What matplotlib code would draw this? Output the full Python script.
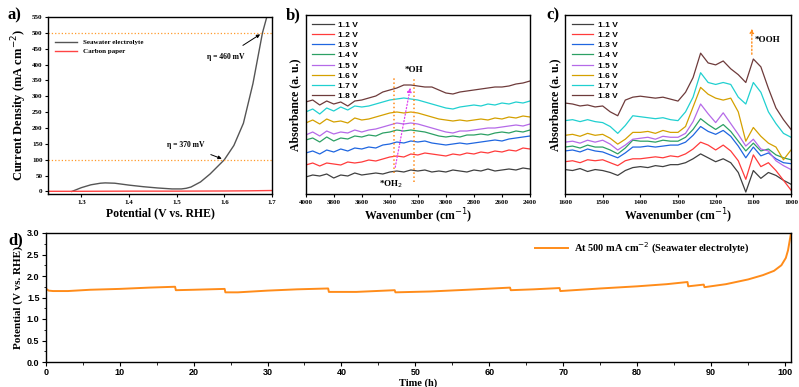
import numpy as np
import matplotlib
matplotlib.use('Agg')
import matplotlib.pyplot as plt

SERIF = 'Liberation Serif'
SANS = 'Liberation Sans'

# ---- panel a: LSV ----
v_sea = [1.28, 1.29, 1.30, 1.32, 1.34, 1.35, 1.37, 1.40, 1.43, 1.46, 1.49, 1.51, 1.52, 1.53,
         1.55, 1.57, 1.59, 1.60, 1.62, 1.64, 1.66, 1.68, 1.69]
j_sea = [0, 6, 12, 21, 26, 27, 26, 20, 15, 11, 8, 8, 10, 14,
         30, 55, 85, 100, 145, 215, 340, 500, 555]
v_cp = [1.23, 1.30, 1.40, 1.50, 1.60, 1.65, 1.70]
j_cp = [0.5, 0.5, 1, 1, 1.5, 2, 3]

# ---- panel b: FTIR 4000-2400 ----
wn_b = np.arange(4000, 2399, -50)
spec_b = {
    '1.1 V': [17, 19, 18, 20, 16, 19, 18, 21, 19, 20, 21, 20, 22, 23, 22, 24, 23, 24, 22, 23, 22, 24, 23, 22, 24, 23, 25, 23, 24, 25, 24, 26, 25],
    '1.2 V': [29, 31, 28, 31, 30, 29, 32, 31, 32, 34, 33, 35, 37, 38, 37, 40, 39, 41, 40, 39, 38, 40, 39, 41, 40, 42, 41, 43, 42, 44, 43, 46, 45],
    '1.3 V': [41, 43, 40, 44, 42, 45, 43, 46, 45, 47, 46, 49, 50, 52, 51, 53, 52, 53, 51, 50, 49, 50, 51, 50, 51, 52, 53, 54, 53, 55, 56, 57, 58],
    '1.4 V': [54, 56, 52, 57, 53, 56, 55, 58, 57, 59, 58, 61, 62, 64, 63, 64, 63, 62, 60, 58, 57, 58, 57, 59, 59, 60, 59, 61, 62, 61, 63, 62, 64],
    '1.5 V': [59, 62, 58, 63, 60, 62, 61, 64, 62, 64, 65, 67, 69, 71, 70, 71, 70, 68, 66, 64, 62, 61, 63, 63, 64, 65, 66, 66, 67, 68, 69, 68, 70],
    '1.6 V': [71, 74, 70, 75, 72, 73, 71, 76, 74, 75, 77, 79, 81, 82, 81, 82, 81, 79, 77, 75, 74, 73, 74, 73, 74, 75, 74, 76, 75, 77, 76, 78, 77],
    '1.7 V': [82, 85, 80, 86, 83, 87, 84, 88, 87, 88, 90, 92, 94, 95, 96, 95, 94, 92, 90, 88, 86, 85, 87, 88, 89, 88, 90, 89, 91, 90, 92, 91, 93],
    '1.8 V': [92, 94, 89, 93, 90, 92, 88, 93, 94, 96, 98, 102, 104, 106, 109, 109, 108, 107, 107, 104, 101, 100, 102, 103, 104, 105, 106, 107, 107, 108, 110, 111, 113],
}

# ---- panel c: FTIR 1600-1000 ----
wn_c = np.arange(1600, 999, -20)
spec_c = {
    '1.1 V': [21, 20, 22, 19, 21, 20, 18, 15, 20, 23, 24, 23, 25, 24, 26, 26, 28, 32, 37, 33, 29, 32, 28, 18, -2, 20, 12, 18, 15, 10, 6],
    '1.2 V': [29, 30, 28, 31, 30, 31, 28, 25, 30, 32, 32, 33, 34, 33, 35, 34, 37, 42, 49, 46, 41, 46, 40, 30, 11, 36, 24, 28, 20, 10, 0],
    '1.3 V': [40, 41, 39, 42, 40, 39, 36, 33, 38, 44, 44, 45, 44, 45, 46, 46, 49, 56, 65, 60, 57, 61, 55, 45, 33, 44, 35, 38, 32, 28, 27],
    '1.4 V': [44, 45, 43, 46, 44, 44, 41, 37, 43, 51, 50, 50, 49, 51, 50, 50, 54, 62, 73, 67, 62, 67, 60, 50, 40, 48, 40, 42, 36, 33, 31],
    '1.5 V': [49, 50, 48, 51, 49, 51, 47, 41, 46, 52, 53, 54, 52, 55, 54, 54, 58, 70, 88, 78, 69, 79, 68, 57, 45, 52, 42, 40, 30, 25, 21],
    '1.6 V': [56, 57, 55, 58, 56, 57, 53, 47, 52, 59, 59, 60, 58, 61, 59, 59, 65, 85, 105, 98, 94, 92, 94, 80, 50, 64, 55, 48, 44, 31, 41],
    '1.7 V': [71, 72, 70, 72, 70, 69, 65, 58, 66, 76, 75, 74, 73, 74, 72, 71, 80, 95, 120, 110, 108, 110, 108, 95, 88, 110, 100, 80, 68, 58, 54],
    '1.8 V': [89, 88, 86, 87, 85, 86, 80, 76, 92, 95, 96, 95, 94, 95, 93, 91, 100, 115, 140, 130, 128, 132, 124, 118, 110, 134, 126, 104, 84, 72, 62],
}
colors = ['#404040', '#ff3b3b', '#1f66e0', '#2ca064', '#b56ae8', '#d4a000', '#20d0d0', '#6e3b3b']

# ---- panel d: stability ----
t_h = [0, 0.4, 1, 3, 6, 10, 14, 17.5, 17.6, 20, 24.2, 24.3, 26, 30, 34, 38.2, 38.3, 42, 47.2, 47.3,
       52, 57, 62.8, 62.9, 66, 69.5, 69.6, 75, 80, 84, 86.8, 86.9, 89, 89.1, 92, 95, 97, 98.5,
       99.5, 100.1, 100.4, 100.6, 100.8]
pot = [1.71, 1.66, 1.65, 1.65, 1.68, 1.70, 1.73, 1.75, 1.67, 1.68, 1.70, 1.62, 1.62, 1.66, 1.69, 1.71, 1.63, 1.63, 1.67, 1.62,
       1.64, 1.68, 1.73, 1.67, 1.69, 1.72, 1.65, 1.71, 1.76, 1.81, 1.86, 1.76, 1.80, 1.74, 1.81, 1.92, 2.02, 2.12,
       2.25, 2.42, 2.6, 2.8, 3.0]

W, H = 799, 387
fig = plt.figure(figsize=(W / 100, H / 100), dpi=100)


def box(l, t, r, b):
    return [l / W, 1 - b / H, (r - l) / W, (b - t) / H]


def style(ax, lw=1.0):
    for s in ax.spines.values():
        s.set_linewidth(lw)


def tick_font(labels, family, size):
    fp = matplotlib.font_manager.FontProperties(family=family, weight='bold', size=size)
    for lab in labels:
        lab.set_fontproperties(fp)


bold_serif = dict(family=SERIF, weight='bold')
bold_sans = dict(family=SANS, weight='bold')

# panel a
ax = fig.add_axes(box(48, 17, 272, 194))
style(ax)
ax.plot(v_sea, j_sea, color='#555555', lw=1.0, label='Seawater electrolyte')
ax.plot(v_cp, j_cp, color='#ff4444', lw=1.0, label='Carbon paper')
ax.axhline(100, color='#ff9a2a', ls=':', lw=0.9)
ax.axhline(500, color='#ff9a2a', ls=':', lw=0.9)
ax.set_xlim(1.23, 1.7)
ax.set_ylim(-8, 550)
ax.set_xticks([1.3, 1.4, 1.5, 1.6, 1.7])
ax.set_yticks(np.arange(0, 551, 50))
ax.tick_params(length=2.5, width=0.8, pad=1.5)
tick_font(ax.get_xticklabels() + ax.get_yticklabels(), SERIF, 5)
ax.set_xlabel('Potential (V vs. RHE)', fontsize=8.5, labelpad=2, **bold_serif)
ax.set_ylabel('Current Density (mA cm$^{-2}$)', fontsize=9, labelpad=2, **bold_serif)
ax.legend(loc='upper left', bbox_to_anchor=(0.02, 0.89), frameon=False, handlelength=3.2,
          borderaxespad=0, labelspacing=0.5, prop=dict(family=SERIF, weight='bold', size=5))
ax.annotate('η = 460 mV', xy=(1.68, 500), xytext=(1.602, 425), ha='center', va='center',
            fontsize=5.5, **bold_serif, arrowprops=dict(arrowstyle='-|>', color='black', lw=0.7,
                                                        mutation_scale=5, shrinkA=6))
ax.annotate('η = 370 mV', xy=(1.6, 100), xytext=(1.518, 147), ha='center', va='center',
            fontsize=5.5, **bold_serif, arrowprops=dict(arrowstyle='-|>', color='black', lw=0.7,
                                                        mutation_scale=5, shrinkA=6))
fig.text(8 / W, 1 - 15 / H, 'a)', fontsize=12, va='center', **bold_serif)

# panel b
ax = fig.add_axes(box(305.7, 15, 530, 194))
style(ax)
for (lab, vals), c in zip(spec_b.items(), colors):
    ax.plot(wn_b, vals, color=c, lw=0.9, label=lab)
ax.set_xlim(4000, 2400)
ax.set_ylim(0, 179)
ax.set_yticks([])
ax.set_xticks(np.arange(4000, 2399, -200))
ax.tick_params(length=2.5, width=0.8, pad=1.5)
tick_font(ax.get_xticklabels(), SERIF, 5)
ax.set_xlabel('Wavenumber (cm$^{-1}$)', fontsize=8.5, labelpad=2, **bold_serif)
ax.set_ylabel('Absorbance (a. u.)', fontsize=8.5, labelpad=3, **bold_serif)
ax.legend(loc='upper left', bbox_to_anchor=(0.015, 0.985), frameon=False, handlelength=2.6,
          handletextpad=0.5, borderaxespad=0, labelspacing=0.28, prop=dict(family=SANS, weight='bold', size=6))
ax.plot([3370, 3370], [21, 117], color='#ff8c1a', ls=':', lw=1.1)
ax.plot([3230, 3230], [12, 117], color='#ff8c1a', ls=':', lw=1.1)
ax.annotate('', xy=(3250, 109), xytext=(3365, 24),
            arrowprops=dict(arrowstyle='-|>', color='#e040f0', lw=0.9, ls=':', mutation_scale=6))
ax.text(3230, 124, '*OH', ha='center', va='center', fontsize=6.5, **bold_serif)
ax.text(3390, 10, '*OH$_2$', ha='center', va='center', fontsize=6.5, **bold_serif)
fig.text(286 / W, 1 - 15 / H, 'b)', fontsize=12, va='center', **bold_serif)

# panel c
ax = fig.add_axes(box(565, 15, 791, 194))
style(ax)
for (lab, vals), c in zip(spec_c.items(), colors):
    ax.plot(wn_c, vals, color=c, lw=0.9, label=lab)
ax.set_xlim(1600, 1000)
ax.set_ylim(-4, 179)
ax.set_yticks([])
ax.set_xticks(np.arange(1600, 999, -100))
ax.tick_params(length=2.5, width=0.8, pad=1.5)
tick_font(ax.get_xticklabels(), SERIF, 5)
ax.set_xlabel('Wavenumber (cm$^{-1}$)', fontsize=8.5, labelpad=2, **bold_serif)
ax.set_ylabel('Absorbance (a. u.)', fontsize=8.5, labelpad=3, **bold_serif)
ax.legend(loc='upper left', bbox_to_anchor=(0.015, 0.985), frameon=False, handlelength=2.6,
          handletextpad=0.5, borderaxespad=0, labelspacing=0.28, prop=dict(family=SANS, weight='bold', size=6))
ax.annotate('', xy=(1104, 168), xytext=(1104, 136),
            arrowprops=dict(arrowstyle='-|>', color='#ff8c1a', lw=1.0, ls=':', mutation_scale=6))
ax.text(1096, 153, '*OOH', ha='left', va='center', fontsize=6.5, **bold_serif)
fig.text(546 / W, 1 - 15 / H, 'c)', fontsize=12, va='center', **bold_serif)

# panel d
ax = fig.add_axes(box(45.7, 233, 791, 362))
style(ax)
ax.plot(t_h, pot, color='#ff8c1a', lw=1.4, label='At 500 mA cm$^{-2}$ (Seawater electrolyte)')
ax.set_xlim(0, 100.8)
ax.set_ylim(0, 3.0)
ax.set_xticks(np.arange(0, 101, 10))
ax.set_xticks(np.arange(5, 101, 10), minor=True)
ax.set_yticks(np.arange(0, 3.01, 0.5))
ax.set_yticks(np.arange(0.25, 3.0, 0.5), minor=True)
ax.tick_params(length=3, width=0.8, pad=1.5)
ax.tick_params(which='minor', length=1.8, width=0.6)
ax.set_yticklabels(['%.1f' % y for y in np.arange(0, 3.01, 0.5)])
tick_font(ax.get_xticklabels() + ax.get_yticklabels(), SANS, 6.5)
ax.set_xlabel('Time (h)', fontsize=7.5, labelpad=1, **bold_serif)
ax.set_ylabel('Potential (V vs. RHE)', fontsize=8, labelpad=3, **bold_serif)
ax.legend(loc='upper right', bbox_to_anchor=(0.95, 0.97), frameon=False, handlelength=3.2,
          handletextpad=0.6, borderaxespad=0, prop=dict(family=SERIF, weight='bold', size=7.5))
fig.text(8 / W, 1 - 240 / H, 'd)', fontsize=12, va='center', **bold_serif)

fig.savefig('out.png', dpi=100)
